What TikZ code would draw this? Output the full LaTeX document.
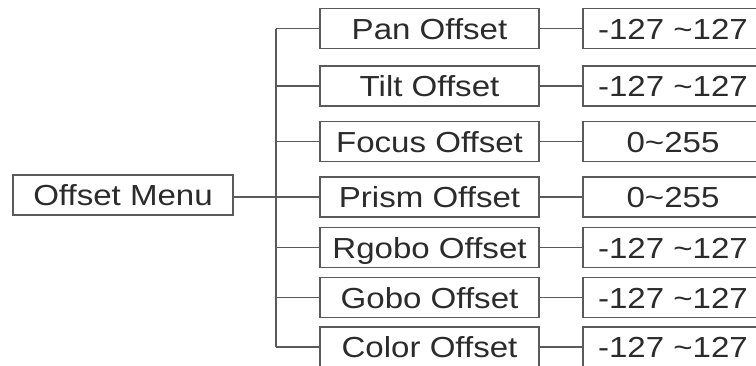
\documentclass[tikz,border=0pt]{standalone}
\usepackage{fontspec}
\setmainfont{Liberation Sans}[FakeStretch=1.14]
\usepackage{xcolor}
\usepackage{tikz}
\usetikzlibrary{calc, positioning}

\definecolor{linegray}{HTML}{5A5A5A}
\definecolor{textgray}{HTML}{2B2B2B}
\newcommand{\tld}{\char126\relax}

\tikzset{
	menubox/.style = {draw = linegray, line width = 1.3pt, inner sep = 0pt,
		minimum height = 40pt, text height = 21pt, text depth = 0pt,
		text = textgray, font = \fontsize{29}{30}\selectfont},
	itembox/.style = {menubox, minimum width = 219pt},
	valuebox/.style = {menubox, minimum width = 180pt},
	link/.style = {draw = linegray, line width = 1.3pt}
}

\begin{document}
\begin{tikzpicture}[x = 1pt, y = -1pt]
			\useasboundingbox (0,0) rectangle (756,365);
			\clip (0,0) rectangle (756,365);

			\node [menubox, minimum width = 220pt] (menu) at (123,195) {Offset Menu};
			\coordinate (trunk) at (276,195);

			\begin{scope}
				\foreach \name/\item/\val/\y in {pan/Pan Offset/-127 \tld127/28.5,
					tilt/Tilt Offset/-127 \tld127/86,
					focus/Focus Offset/0\tld255/141.5,
					prism/Prism Offset/0\tld255/197,
					rgobo/Rgobo Offset/-127 \tld127/247.5,
					gobo/Gobo Offset/-127 \tld127/297.5,
					color/Color Offset/-127 \tld127/347}
				{
					\node [itembox] (\name) at (429.5,\y) {\item};
					\node [valuebox] (\name-val) at (673,\y) {\val};
					\draw [link] (trunk |- \name.west) -- (\name.west);
					\draw [link] (\name.east) -- (\name-val.west);
				}
			\end{scope}

			\begin{scope}
				\draw [link] (menu.east |- 0,197) -- (trunk |- 0,197);
				\draw [link] (trunk |- pan.west) -- (trunk |- color.west);
			\end{scope}
		\end{tikzpicture}
\end{document}
